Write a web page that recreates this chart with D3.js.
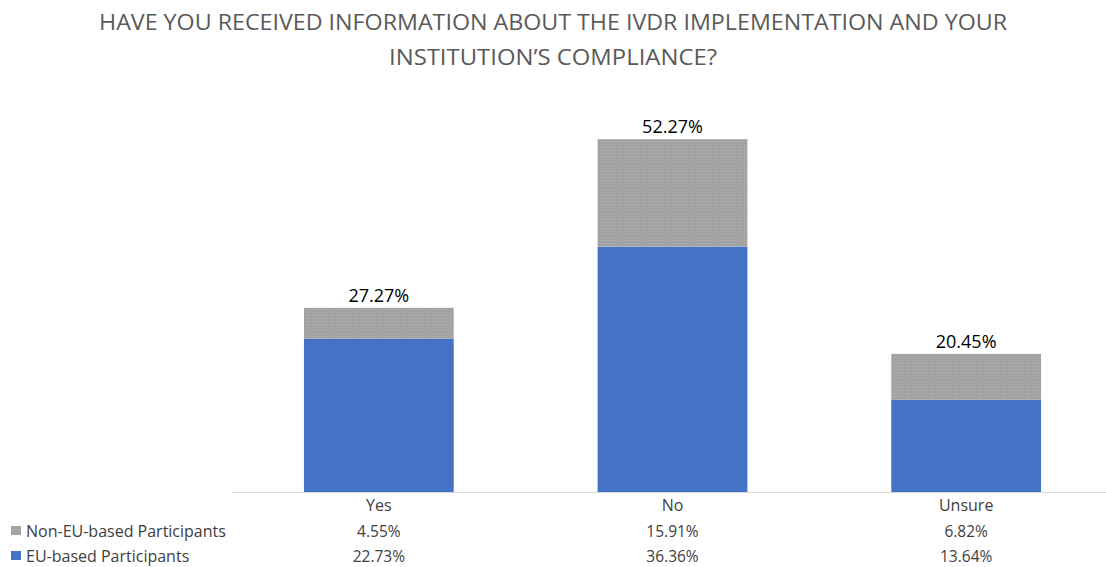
<!DOCTYPE html>
<html><head><meta charset="utf-8">
<script src="https://cdn.jsdelivr.net/npm/d3@7"></script>
<style>body{margin:0;background:#fff}svg{display:block}</style>
</head><body>
<svg id="c" width="1106" height="567"></svg>
<script>
const categories = ["Yes", "No", "Unsure"];
const seriesNames = ["EU-based Participants", "Non-EU-based Participants"];
const euValues = [22.73, 36.36, 13.64];
const nonEuValues = [4.55, 15.91, 6.82];
const totals = [27.27, 52.27, 20.45];
const titleLines = ["HAVE YOU RECEIVED INFORMATION ABOUT THE IVDR IMPLEMENTATION AND YOUR", "INSTITUTION\u2019S COMPLIANCE?"];

const svg = d3.select("#c");
const font = "'Open Sans',sans-serif";
const colors = {eu: "#4472c4", non: "#a5a5a5"};

const defs = svg.append("defs");
const pat = defs.append("pattern").attr("id","dots").attr("patternUnits","userSpaceOnUse").attr("width",3).attr("height",3);
pat.append("rect").attr("width",3).attr("height",3).attr("fill","#a2a2a2");
pat.append("rect").attr("x",0).attr("y",0).attr("width",1).attr("height",1).attr("fill","#b4b4b4");

const x = d3.scaleBand().domain(categories).range([232, 1113]).paddingInner(0.49).paddingOuter(0.245);
const y = d3.scaleLinear().domain([0, 60]).range([492, 87]);

// title
svg.selectAll("text.title").data(titleLines).join("text")
  .attr("class","title").attr("x",553).attr("y",(d,i)=>30+i*35)
  .attr("text-anchor","middle").attr("fill","#595959")
  .style("font-family",font).style("font-size","22px")
  .attr("textLength",(d,i)=> i===0?908:328).attr("lengthAdjust","spacingAndGlyphs")
  .text(d=>d);

const data = categories.map((c,i)=>({c, eu: euValues[i], non: nonEuValues[i], total: totals[i]}));

svg.selectAll("rect.eu").data(data).join("rect").attr("class","eu")
  .attr("x",d=>x(d.c)).attr("width",x.bandwidth())
  .attr("y",d=>y(d.eu)).attr("height",d=>y(0)-y(d.eu)).attr("fill",colors.eu);
svg.selectAll("rect.non").data(data).join("rect").attr("class","non")
  .attr("x",d=>x(d.c)).attr("width",x.bandwidth())
  .attr("y",d=>y(d.eu+d.non)).attr("height",d=>y(d.eu)-y(d.eu+d.non)).attr("fill","url(#dots)");

svg.selectAll("text.tot").data(data).join("text").attr("class","tot")
  .attr("x",d=>x(d.c)+x.bandwidth()/2).attr("y",d=>y(d.total)-6)
  .attr("text-anchor","middle").attr("fill","#000")
  .style("font-family",font).style("font-size","18px")
  .text(d=>d.total.toFixed(2)+"%");

// axis line
svg.append("line").attr("x1",232).attr("x2",1106).attr("y1",492.5).attr("y2",492.5)
  .attr("stroke","#d9d9d9").attr("stroke-width",1);

svg.selectAll("text.cat").data(categories).join("text").attr("class","cat")
  .attr("x",d=>x(d)+x.bandwidth()/2).attr("y",511).attr("text-anchor","middle")
  .attr("fill","#404040").style("font-family",font).style("font-size","16px").text(d=>d);

const rows = [
  {name: seriesNames[1], vals: nonEuValues, color: colors.non, y: 537},
  {name: seriesNames[0], vals: euValues, color: colors.eu, y: 562}
];
rows.forEach(r=>{
  svg.append("rect").attr("x",11).attr("y",r.y-11).attr("width",10).attr("height",9).attr("fill",r.color);
  svg.append("text").attr("x",26).attr("y",r.y).attr("fill","#404040")
    .style("font-family",font).style("font-size","16px").text(r.name);
  svg.selectAll(null).data(categories).join("text")
    .attr("x",d=>x(d)+x.bandwidth()/2).attr("y",r.y).attr("text-anchor","middle")
    .attr("fill","#404040").style("font-family",font).style("font-size","15.5px")
    .text((d,i)=>r.vals[i].toFixed(2)+"%");
});
</script>
</body></html>
